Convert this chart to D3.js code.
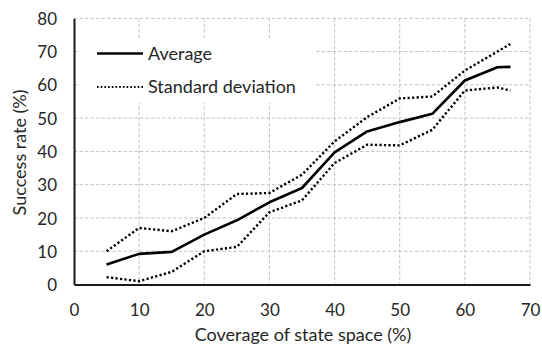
<!DOCTYPE html>
<html>
<head>
<meta charset="utf-8">
<script src="https://cdn.jsdelivr.net/npm/d3@7"></script>
<style>
  html, body { margin: 0; padding: 0; background: #fff; }
  svg { display: block; font-family: Lato, "Open Sans", sans-serif; }
</style>
</head>
<body>
<svg id="chart" width="542" height="346"></svg>
<script>
// Coverage of state space (%) at which success rate was measured
const coverage = [5, 10, 15, 20, 25, 30, 35, 40, 45, 50, 55, 60, 65, 67];
// Mean success rate (%)
const average = [6, 9.2, 9.8, 15, 19.3, 24.7, 29, 39.7, 46, 48.8, 51.3, 61.3, 65.3, 65.4];
// Mean + one standard deviation
const upperDev = [10, 17, 16, 20, 27.2, 27.5, 33, 43, 50.3, 55.9, 56.5, 64.3, 70, 72.3];
// Mean - one standard deviation
const lowerDev = [2.2, 1, 3.8, 10, 11.3, 21.7, 25.3, 36.5, 42, 41.8, 46.5, 58.3, 59.2, 58.3];

const xTicks = [0, 10, 20, 30, 40, 50, 60, 70];
const yTicks = [0, 10, 20, 30, 40, 50, 60, 70, 80];
const legendLabels = ["Average", "Standard deviation"];

const svg = d3.select("#chart");
const plotLeft = 74, plotRight = 530, plotTop = 18.3, plotBottom = 284.5;

const x = d3.scaleLinear().domain([0, 70]).range([plotLeft, plotRight]);
const y = d3.scaleLinear().domain([0, 80]).range([plotBottom, plotTop]);

const gridColor = "#c2c2c2";
const textColor = "#262626";

// horizontal gridlines
svg.append("g")
  .selectAll("line")
  .data(yTicks.filter(d => d > 0))
  .join("line")
  .attr("x1", plotLeft).attr("x2", plotRight)
  .attr("y1", d => y(d)).attr("y2", d => y(d))
  .attr("stroke", gridColor).attr("stroke-width", 1)
  .attr("stroke-dasharray", "3.5,2");

// vertical gridlines
svg.append("g")
  .selectAll("line")
  .data(xTicks.filter(d => d > 0))
  .join("line")
  .attr("x1", d => x(d)).attr("x2", d => x(d))
  .attr("y1", plotTop).attr("y2", plotBottom)
  .attr("stroke", gridColor).attr("stroke-width", 1)
  .attr("stroke-dasharray", "3.5,2");

// axes
const xAxis = d3.axisBottom(x).tickValues(xTicks).tickSize(0).tickPadding(19);
const yAxis = d3.axisLeft(y).tickValues(yTicks).tickSize(0).tickPadding(17);

const gx = svg.append("g").attr("transform", `translate(0,${plotBottom})`).call(xAxis);
const gy = svg.append("g").attr("transform", `translate(${plotLeft},0)`).call(yAxis);
[gx, gy].forEach(g => {
  g.select(".domain").attr("stroke", "#1a1a1a").attr("stroke-width", 2);
  g.selectAll("text").attr("font-size", 17).attr("fill", textColor)
    .attr("font-family", "Lato, 'Open Sans', sans-serif");
});
gy.selectAll("text").attr("dy", "0.36em");

// axis titles
svg.append("text")
  .attr("x", 303).attr("y", 341)
  .attr("text-anchor", "middle").attr("font-size", 18).attr("fill", textColor)
  .text("Coverage of state space (%)");

svg.append("text")
  .attr("transform", `translate(26,${(plotTop + plotBottom) / 2 + 1}) rotate(-90)`)
  .attr("text-anchor", "middle").attr("font-size", 18).attr("fill", textColor)
  .text("Success rate (%)");

// series lines
const line = vals => d3.line()
  .x((d, i) => x(coverage[i]))
  .y(d => y(d))(vals);

[upperDev, lowerDev].forEach(vals => {
  svg.append("path")
    .attr("d", line(vals))
    .attr("fill", "none").attr("stroke", "#000")
    .attr("stroke-width", 2.4)
    .attr("stroke-dasharray", "2.2,2.3");
});

svg.append("path")
  .attr("d", line(average))
  .attr("fill", "none").attr("stroke", "#000")
  .attr("stroke-width", 2.6).attr("stroke-linejoin", "round");

// legend
const legend = svg.append("g");
legend.append("rect")
  .attr("x", 80).attr("y", 38).attr("width", 235).attr("height", 65)
  .attr("fill", "#fff");

const legendRows = [
  { label: legendLabels[0], y: 53.5, dashed: false },
  { label: legendLabels[1], y: 87, dashed: true }
];
legendRows.forEach(r => {
  const ln = legend.append("line")
    .attr("x1", 97).attr("x2", 143)
    .attr("y1", r.y).attr("y2", r.y)
    .attr("stroke", "#000");
  if (r.dashed) {
    ln.attr("stroke-width", 2).attr("stroke-dasharray", "1.6,2.1");
  } else {
    ln.attr("stroke-width", 2.6);
  }
  legend.append("text")
    .attr("x", 148).attr("y", r.y).attr("dy", "0.36em")
    .attr("font-size", 18).attr("fill", textColor)
    .text(r.label);
});
</script>
</body>
</html>
